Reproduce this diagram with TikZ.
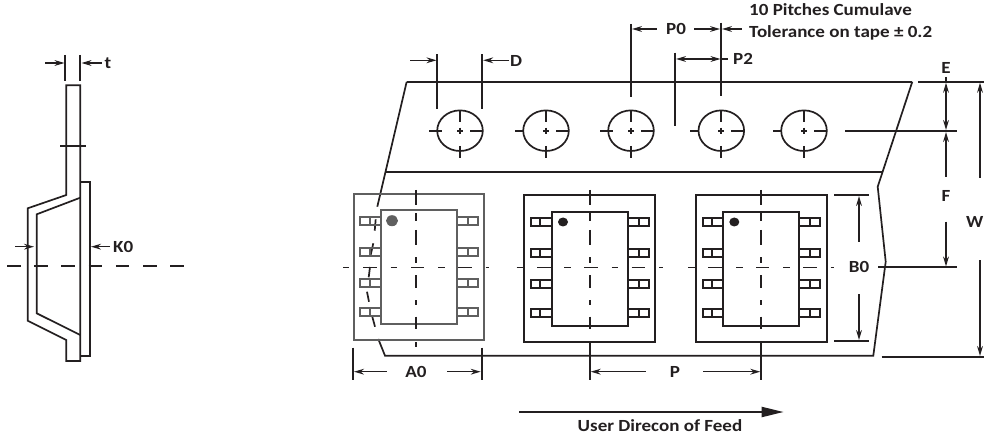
\documentclass[tikz,border=0pt]{standalone}
\usepackage{fontspec}
\setmainfont{Carlito}
\newfontfamily\lblfont[FakeStretch=1.12]{Carlito}
\usetikzlibrary{arrows.meta}
\definecolor{ink}{HTML}{231F20}
\definecolor{greyink}{HTML}{5F5F5F}
\tikzset{
  line/.style={draw=ink,line width=1.7pt},
  thin line/.style={draw=ink,line width=1.5pt},
  dim/.style={draw=ink,line width=1.4pt,-{Stealth[length=10pt,width=5.8pt]}},
  dimboth/.style={draw=ink,line width=1.4pt,{Stealth[length=10pt,width=5.8pt]}-{Stealth[length=10pt,width=5.8pt]}},
  lbl/.style={font=\lblfont\bfseries\fontsize{17}{19}\selectfont,text=ink,inner sep=0pt},
}
\begin{document}
\begin{tikzpicture}[x=1pt,y=-1pt]
\useasboundingbox (0,0) rectangle (984,438);
%% left section
\draw[line,line join=miter] (66.3,195) -- (66.3,85.3) -- (80.3,85.3) -- (80.3,361) -- (66.3,361) -- (66.3,340) -- (27.7,320.7) -- (27.7,208.3) -- cycle;
\draw[line] (80.3,197.7) -- (36.7,214.3) -- (36.7,313.3) -- (80.3,335);
\draw[line] (80.3,181.7) -- (89.7,181.7) -- (89.7,356) -- (80.3,356);
\draw[line] (60.3,145.7) -- (86.3,145.7);
\draw[line] (65.3,55) -- (65.3,80.7);
\draw[line] (80.3,55) -- (80.3,80.7);
\draw[dim] (45,63) -- (64.5,63);
\draw[dim] (102,63) -- (81.5,63);
\node[lbl,anchor=west] (t) at (104.5,63) {t};
\draw[dim] (15,246.7) -- (34,246.7);
\draw[dim] (110,246.7) -- (91,246.7);
\node[lbl,anchor=west] (k0) at (113,247) {K0};
\draw[line,dash pattern=on 13.6pt off 13.6pt] (7,266.3) -- (184,266.3);
%% tape outline
\draw[line] (406.7,81.7) -- (912.3,81.7);
\draw[line] (912.3,81.7) -- (877.7,186.7) -- (885.7,261.7) -- (873.3,355.7) -- (385,355.7) -- (378.3,339);
\draw[line] (406.7,81.7) -- (377.3,206.7);
\draw[line] (385,172) -- (881.7,172);
\draw[line] (375.7,219.3) -- (374.7,230.7);
\draw[line] (373.3,243.3) -- (370.7,255);
\draw[line] (370,267) -- (368.7,277.3);
\draw[line] (367,291.7) -- (369,301.7);
\draw[line] (372.3,316.7) -- (375,326.7);
%% holes
\foreach \x/\l in {460/18,546/22,631/18,721.3/22,804/22}{
  \draw[line] (\x,130.7) ellipse [x radius=22.8,y radius=20.3];
  \draw[line] (\x,110.7) -- (\x,122.3);
  \draw[line] (\x,146) -- (\x,158.3);
  \draw[line] (\x-31,130.7) -- (\x-\l,130.7);
  \draw[line] (\x+10,130.7) -- (\x+23,130.7);
  \draw[line] (\x-3,130.7) -- (\x+3,130.7);
  \draw[line] (\x,127.7) -- (\x,133.7);
}
%% hole dimensions
\draw[line] (437.3,54.3) -- (437.3,109.3);
\draw[line] (482.3,54.3) -- (482.3,109.3);
\draw[dim] (410,60.3) -- (436.5,60.3);
\draw[dim] (509.3,60.3) -- (483.2,60.3);
\node[lbl,anchor=west] (d) at (509.8,61) {D};
\draw[line] (631,24) -- (631,96.7);
\draw[line] (721,22.7) -- (721,95.7);
\draw[dim] (656.7,29) -- (632,29);
\draw[dim] (694.3,29) -- (720,29);
\draw[dim] (741.7,29) -- (722,29);
\node[lbl,anchor=west] (p0) at (666,29) {P0};
\draw[line] (675,52.7) -- (675,126);
\draw[dimboth] (676,59) -- (720.5,59);
\draw[thin line] (720,59) -- (728.3,59);
\node[lbl,anchor=west] (p2) at (733,59) {P2};
\node[lbl,anchor=west] (n1) at (749,10) {10 Pitches Cumulave};
\node[lbl,anchor=west] (n2) at (749,33) {Tolerance on tape ± 0.2};
%% right dimensions
\draw[line] (918.3,81.7) -- (984,81.7);
\draw[line] (845,131) -- (957.3,131);
\draw[line] (878,267.3) -- (957.3,267.3);
\draw[line] (881.7,357) -- (984,357);
\draw[line] (946,77) -- (946,82);
\draw[dimboth] (946,82.7) -- (946,130);
\draw[dim] (946,176.7) -- (946,132);
\draw[dim] (946,221.7) -- (946,266.5);
\node[lbl] (e) at (946,68) {E};
\node[lbl] (f) at (946,195.7) {F};
\draw[dim] (980,178) -- (980,82.7);
\draw[dim] (980,260) -- (980,356);
\node[lbl,anchor=east] (w) at (983.5,222) {W};
\draw[line] (834.3,195) -- (869.3,195);
\draw[line] (834.3,341.3) -- (869.3,341.3);
\draw[dim] (859,241.7) -- (859,196);
\draw[dim] (859,294) -- (859,340);
\node[lbl] (b0) at (859,267) {B0};
%% packages
% package 1 (grey)
\begin{scope}[draw=greyink,line width=1.8pt]
\draw (353.7,194) rectangle (484.3,340.3);
\draw (380.7,210.3) rectangle (457.3,324.3);
\foreach \y in {220.7,251.7,282.7,312}{
  \draw (380.7,\y-4) -- (360,\y-4) -- (360,\y+4) -- (380.7,\y+4);
  \draw (370,\y-4) -- (370,\y+4);
  \draw (457.3,\y-4) -- (477.7,\y-4) -- (477.7,\y+4) -- (457.3,\y+4);
  \draw (468.3,\y-4) -- (468.3,\y+4);
}
\fill[greyink] (392,220.7) ellipse [x radius=6,y radius=5.5];
\end{scope}
% package 2 and 3 (black)
\foreach \ox/\oxr/\bl/\br/\ll/\lr/\dl/\dr/\dotx in {524.3/655/551.7/628/531/648.7/540/639/563, 696/826.7/723/799.3/702.7/820.3/711.7/810.3/734.3}{
\begin{scope}[draw=ink,line width=1.7pt]
\draw (\ox,195) rectangle (\oxr,341.7);
\draw (\bl,211.7) rectangle (\br,325.7);
\foreach \y in {221.7,252.7,284,313.3}{
  \draw (\bl,\y-4) -- (\ll,\y-4) -- (\ll,\y+4) -- (\bl,\y+4);
  \draw (\dl,\y-4) -- (\dl,\y+4);
  \draw (\br,\y-4) -- (\lr,\y-4) -- (\lr,\y+4) -- (\br,\y+4);
  \draw (\dr,\y-4) -- (\dr,\y+4);
}
\fill[ink] (\dotx,222) ellipse [x radius=5,y radius=4.5];
\end{scope}
}
%% package centre lines
\foreach \x in {416,589.7,761.3}{
  \foreach \a/\b in {190/205,213.3/220.7,230/245,257.3/262.7,275/288.3,300/305,316.7/329}{
    \draw[line] (\x,\a) -- (\x,\b);
  }
}
\draw[line] (416,342) -- (416,347);
\draw[line] (589.7,342.3) -- (589.7,380);
\draw[line] (761.3,342.3) -- (761.3,380);
\foreach \a/\b in {343.3/349.3,363.3/376.7,390.7/397.3,411/424.3,438.3/445,458.3/471.7,485.7/489.3,
                   516.7/523.3,537.3/550.7,564.3/571,584.3/597.7,611.7/618.3,631.7/645,659/662.7,
                   688.3/695,708.3/721.7,736/742.7,756/769.3,783.3/790,803.3/816.7,830.7/834}{
  \draw[thin line] (\a,267.3) -- (\b,267.3);
}
%% bottom dimensions
\draw[line] (353,347.7) -- (353,380);
\draw[line] (481.7,347.7) -- (481.7,380);
\draw[dim] (386.7,371.7) -- (354,371.7);
\draw[dim] (447.3,371.7) -- (480.7,371.7);
\node[lbl] (a0) at (416,371.7) {A0};
\draw[dim] (645.7,371.7) -- (590.7,371.7);
\draw[dim] (703.3,371.7) -- (760.3,371.7);
\node[lbl] (p) at (675,371.7) {P};
\draw[line] (519.3,412) -- (762,412);
\fill[ink] (761.7,406.7) -- (783.3,412) -- (761.7,417.3) -- cycle;
\node[lbl] (feed) at (660,426) {User Direcon of Feed};
\end{tikzpicture}
\end{document}
